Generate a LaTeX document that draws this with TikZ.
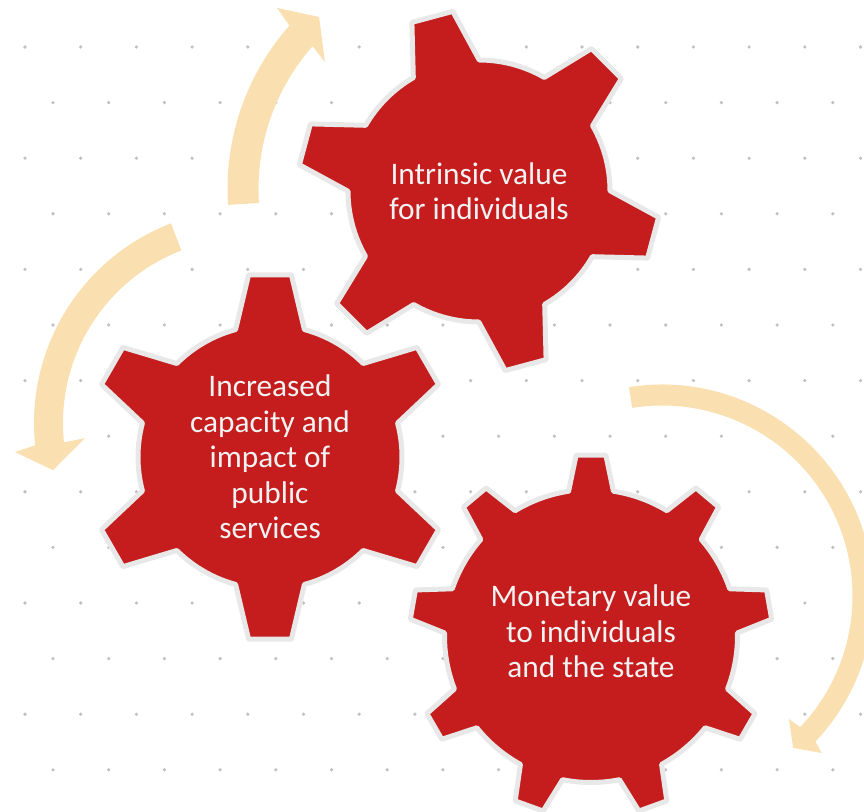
\documentclass[tikz,border=0pt]{standalone}
\usepackage{fontspec}
\setmainfont{Carlito}
\usepackage{xcolor}
\usepackage{tikz}
\definecolor{gearred}{RGB}{197,29,29}
\definecolor{rimgrey}{RGB}{232,232,232}
\definecolor{wheat}{RGB}{250,223,176}
\definecolor{dotgrey}{RGB}{192,192,192}
\definecolor{paper}{RGB}{242,242,242}

\newcommand{\gearwheel}[7]{%
  \draw[gearbody,shift={(#1)}] (#3-#6:#4)
    \foreach \i [evaluate=\i as \ang using #3+360*(\i-1)/#2] in {1,...,#2}{
      -- (\ang-#7:#5) -- (\ang+#7:#5) -- (\ang+#6:#4)
      arc[start angle=\ang+#6,end angle=\ang+360/#2-#6,radius=#4]
    } -- cycle;}

\begin{document}
\begin{tikzpicture}[x=0.75pt,y=-0.75pt,
    gearbody/.style={fill=gearred,draw=rimgrey,line width=3.75pt,line join=round},
    gearlabel/.style={text=paper,align=center,font=\fontsize{23.5}{26.6}\selectfont},
    turnarrow/.style={fill=wheat}]
  \useasboundingbox (0,0) rectangle (864,812);
  \foreach \k in {0,2,...,12}
    \foreach \j in {0,...,15}
      \fill[dotgrey] (25+55.7*\j,47+55.6*\k) circle[radius=1.8];
  \foreach \k in {1,3,...,13}
    \foreach \j in {0,...,14}
      \fill[dotgrey] (53+55.7*\j,47+55.6*\k) circle[radius=1.8];

  \coordinate (intrinsic) at (479,191);
  \coordinate (capacity) at (270,457);
  \coordinate (monetary) at (591,636);
  \coordinate (turnA) at (474,189);
  \coordinate (turnB) at (248,423);
  \coordinate (turnC) at (662,596);

  \fill[turnarrow,shift={(turnA)}] (176.3:246.5) arc[start angle=176.3,end angle=221.5,radius=246.5]
    -- (222.6:267.5) -- (228:231.5) -- (220.4:195.8) -- (221.5:215.5)
    arc[start angle=221.5,end angle=176.3,radius=215.5] -- cycle;
  \fill[turnarrow,shift={(turnB)}] (248.9:214) arc[start angle=248.9,end angle=174,radius=214]
    -- (172.9:234.8) -- (166.4:200.6) -- (174.7:163.7) -- (174:185)
    arc[start angle=174,end angle=248.9,radius=185] -- cycle;
  \fill[turnarrow,shift={(turnC)}] (261:211.5) arc[start angle=261,end angle=403.5,radius=211.5]
    -- (404.5:224) -- (409.2:200.7) -- (404.1:176.8) -- (403.5:190.5)
    arc[start angle=403.5,end angle=261,radius=190.5] -- cycle;

  \gearwheel{intrinsic}{6}{255}{131}{181.5}{15.1}{6.7}
  \gearwheel{capacity}{6}{270}{132}{183.5}{15.1}{6.7}
  \gearwheel{monetary}{9}{270}{146.5}{181.5}{8.8}{4.7}

  \node[gearlabel] (intrinsic text) at (intrinsic) {Intrinsic value\\for individuals};
  \node[gearlabel] (capacity text) at (capacity) {Increased\\capacity and\\impact of\\public\\services};
  \node[gearlabel,yshift=3.4pt] (monetary text) at (monetary) {Monetary value\\to individuals\\and the state};
\end{tikzpicture}
\end{document}
